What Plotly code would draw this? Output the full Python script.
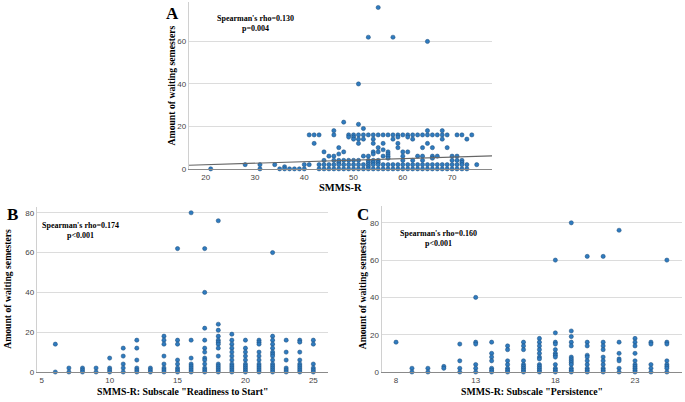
import plotly.graph_objects as go

# ---------------- Data ----------------
# Panel A: SMMS-R total vs waiting semesters (x value -> list of y values)
a_cols = {
    21: [0], 28: [2], 31: [2, 0], 34: [2], 35: [0], 36: [1, 0], 37: [0], 38: [0], 39: [0],
    40: [2, 0], 41: [16, 2], 42: [16, 12], 43: [16, 2, 0], 44: [8, 4, 2, 0], 45: [6, 2, 0],
    46: [18, 16, 6, 4, 2, 0], 47: [10, 7, 4, 3, 2, 0], 48: [22, 8, 4, 2, 0], 49: [16, 15, 4, 2, 0],
    50: [16, 15, 14, 4, 2, 0], 51: [40, 21, 16, 14, 12, 4, 2, 0], 52: [19, 16, 14, 6, 2, 0],
    53: [62, 16, 6, 4, 3, 2, 1, 0], 54: [16, 14, 12, 8, 7, 4, 3, 2, 0], 55: [76, 16, 10, 8, 4, 3, 2, 0],
    56: [16, 12, 9, 6, 2, 0], 57: [16, 8, 7, 6, 5, 2, 0], 58: [62, 16, 14, 2, 0],
    59: [16, 15, 12, 10, 2, 0], 60: [16, 8, 6, 4, 2, 0], 61: [16, 15, 8, 2, 0], 62: [16, 14, 4, 2, 0],
    63: [16, 6, 2, 0], 64: [16, 10, 6, 4, 2, 0], 65: [60, 18, 16, 12, 2, 0], 66: [16, 10, 6, 5, 2, 0],
    67: [16, 6, 2, 0], 68: [18, 16, 14, 2, 0], 69: [16, 10, 2, 0], 70: [6, 4, 2, 0],
    71: [16, 6, 4, 2, 0], 72: [16, 4, 3, 2, 0], 73: [14, 2, 0], 74: [16], 75: [2],
}
a_fit_x = [16.6, 78.1]
a_fit_y = [1.7, 6.1]

# Panel B: Subscale "Readiness to Start"
b_cols = {
    6: [14, 0], 7: [2, 0], 8: [2, 1, 0], 9: [2, 0], 10: [7, 2, 1, 0], 11: [12, 8, 4, 2, 0],
    12: [16, 12, 6, 2, 1, 0], 13: [2, 1, 0], 14: [18, 16, 14, 8, 4, 2, 1, 0],
    15: [62, 16, 14, 6, 4, 2, 1, 0], 16: [80, 16, 7, 4, 3, 2, 1, 0],
    17: [62, 40, 22, 16, 12, 10, 7, 6, 4, 2, 1, 0],
    18: [76, 24, 21, 18, 16, 15, 14, 12, 8, 4, 3, 2, 1, 0],
    19: [19, 16, 14, 12, 10, 8, 6, 4, 3, 2, 1, 0], 20: [16, 12, 10, 8, 6, 4, 3, 2, 1, 0],
    21: [16, 15, 14, 10, 8, 6, 4, 3, 2, 1, 0],
    22: [60, 18, 16, 14, 12, 10, 9, 8, 6, 4, 3, 2, 1, 0], 23: [16, 10, 6, 2, 1, 0],
    24: [16, 15, 10, 6, 4, 3, 2, 1, 0], 25: [16, 14, 4, 2, 1, 0],
}

# Panel C: Subscale "Persistence"
c_cols = {
    8: [16], 9: [2, 0], 10: [2, 0], 11: [3, 2], 12: [15, 6, 2, 0], 13: [40, 16, 15, 4, 2, 0],
    14: [16, 10, 8, 6, 2, 1, 0], 15: [14, 12, 6, 4, 2, 1, 0], 16: [16, 14, 12, 6, 4, 3, 2, 1, 0],
    17: [18, 16, 14, 12, 10, 8, 7, 4, 3, 2, 1, 0], 18: [60, 21, 16, 15, 12, 10, 9, 8, 4, 2, 1, 0],
    19: [80, 22, 19, 16, 14, 8, 7, 6, 5, 4, 2, 1, 0], 20: [62, 16, 14, 9, 8, 6, 4, 2, 1, 0],
    21: [62, 16, 14, 12, 8, 6, 4, 2, 1, 0], 22: [76, 16, 10, 7, 6, 2, 0],
    23: [18, 16, 14, 10, 6, 4, 3, 2, 1, 0], 24: [16, 15, 4, 2, 0], 25: [60, 16, 15, 6, 4, 3, 2, 0],
}

a_xticks = [20, 30, 40, 50, 60, 70]
b_xticks = [5, 10, 15, 20, 25]
c_xticks = [8, 13, 18, 23]
yticks_a = [0, 20, 40, 60]
yticks_bc = [0, 20, 40, 60, 80]


def flatten(cols):
    xs, ys = [], []
    for k, vals in cols.items():
        for v in vals:
            xs.append(k)
            ys.append(v)
    return xs, ys


marker = dict(size=4.2, color="#2f7bbf", line=dict(width=0.5, color="#1a4a78"))

fig = go.Figure()
for cols, ax in [(a_cols, ""), (b_cols, "2"), (c_cols, "3")]:
    xs, ys = flatten(cols)
    fig.add_trace(go.Scatter(x=xs, y=ys, mode="markers", marker=marker, cliponaxis=False,
                             xaxis="x" + ax, yaxis="y" + ax, showlegend=False, hoverinfo="skip"))
fig.add_trace(go.Scatter(x=a_fit_x, y=a_fit_y, mode="lines", line=dict(color="#666666", width=1.2),
                         xaxis="x", yaxis="y", showlegend=False, hoverinfo="skip"))

W, H = 685, 402
tickfont = dict(family="Liberation Sans, Arial", size=8, color="#444444")


def xdom(l, r):
    return [l / W, r / W]


def ydom(b, t):
    return [(H - b) / H, (H - t) / H]


def xax(dom, rng, ticks, anchor):
    return dict(domain=dom, range=rng, tickvals=ticks, ticktext=[str(t) for t in ticks],
                showgrid=False, zeroline=False, showline=True, linecolor="#8a8a8a", linewidth=1.3,
                ticks="", tickfont=tickfont, anchor=anchor, fixedrange=True)


def yax(dom, rng, ticks, anchor):
    return dict(domain=dom, range=rng, tickvals=ticks, ticktext=[str(t) for t in ticks],
                showgrid=True, gridcolor="#dcdcdc", gridwidth=1, zeroline=False, showline=True,
                linecolor="#d0d0d0", linewidth=1.3, ticks="", tickfont=tickfont, anchor=anchor,
                fixedrange=True)


fig.update_layout(
    width=W, height=H, margin=dict(l=0, r=0, t=0, b=0),
    paper_bgcolor="white", plot_bgcolor="white",
    xaxis=xax(xdom(189, 492), [16.6, 78.1], a_xticks, "y"),
    yaxis=yax(ydom(171, 2), [0, 78.6], yticks_a, "x"),
    xaxis2=xax(xdom(37, 328), [4.65, 26.08], b_xticks, "y2"),
    yaxis2=yax(ydom(376.7, 210), [0, 82.7], yticks_bc, "x2"),
    xaxis3=xax(xdom(381.7, 681.7), [7.1, 25.93], c_xticks, "y3"),
    yaxis3=yax(ydom(376.7, 209), [0, 88.8], yticks_bc, "x3"),
)

serif = "Liberation Serif, Times New Roman"


def ann(text, x, y, size, angle=0, xanchor="center"):
    fig.add_annotation(text=text, x=x / W, y=(H - y) / H, xref="paper", yref="paper",
                       showarrow=False, textangle=angle, xanchor=xanchor, yanchor="middle",
                       font=dict(family=serif, size=size, color="black"))


# Panel letters
ann("<b>A</b>", 172, 14, 17)
ann("<b>B</b>", 12, 217, 17)
ann("<b>C</b>", 363, 217, 17)
# Y axis titles
ann("<b>Amount of waiting semesters</b>", 171, 86.5, 9.7, angle=-90)
ann("<b>Amount of waiting semesters</b>", 7.5, 293, 9.7, angle=-90)
ann("<b>Amount of waiting semesters</b>", 362, 293, 9.7, angle=-90)
# X axis titles
ann("<b>SMMS-R</b>", 340.5, 190, 10.5)
ann("<b>SMMS-R: Subscale \"Readiness to Start\"</b>", 182.5, 396.5, 9.8)
ann("<b>SMMS-R: Subscale \"Persistence\"</b>", 531.7, 396.5, 9.8)
# Statistics
ann("<b>Spearman's rho=0.130<br>p=0.004</b>", 255, 23.5, 8)
ann("<b>Spearman's rho=0.174<br>p<0.001</b>", 80, 233, 8)
ann("<b>Spearman's rho=0.160<br>p<0.001</b>", 438, 242, 8)

fig.write_html("out.html", config={"displayModeBar": False},
               post_script="document.body.style.margin='0';document.body.style.overflow='hidden';")
